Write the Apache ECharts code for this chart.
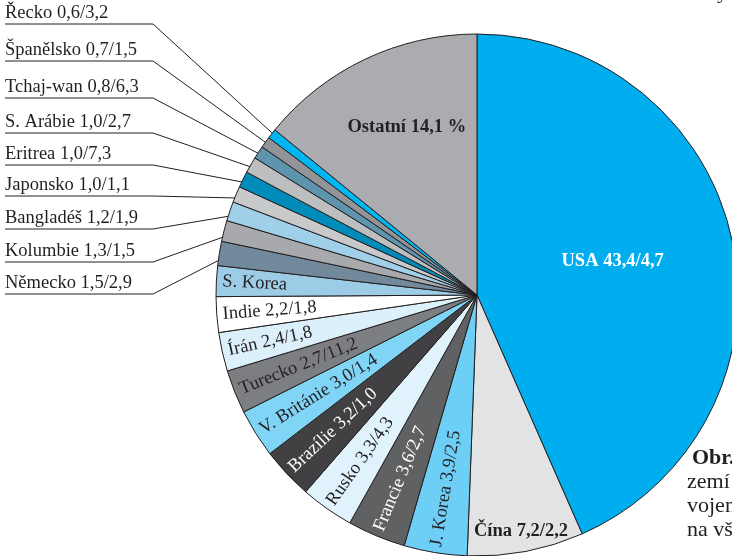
<!DOCTYPE html>
<html>
<head>
<meta charset="utf-8">
<script src="https://cdn.jsdelivr.net/npm/echarts/dist/echarts.min.js"></script>
<style>
html, body { margin: 0; padding: 0; background: #fff; }
#chart { width: 732px; height: 556px; }
</style>
</head>
<body>
<div id="chart"></div>
<script>
// podíl na světových výdajích (%) / druhé číslo v popisku
const countries = ['USA', 'Čína', 'J. Korea', 'Francie', 'Rusko', 'Brazílie', 'V. Británie', 'Turecko', 'Írán', 'Indie',
  'S. Korea', 'Německo', 'Kolumbie', 'Bangladéš', 'Japonsko', 'Eritrea', 'S. Arábie', 'Tchaj-wan', 'Španělsko', 'Řecko', 'Ostatní']
const shares = [43.4, 7.2, 3.9, 3.6, 3.3, 3.2, 3.0, 2.7, 2.4, 2.2, 1.9, 1.5, 1.3, 1.2, 1.0, 1.0, 1.0, 0.8, 0.7, 0.6, 14.1]
const secondVals = [4.7, 2.2, 2.5, 2.7, 4.3, 1.0, 1.4, 11.2, 1.8, 1.8, null, 2.9, 1.5, 1.9, 1.1, 7.3, 2.7, 6.3, 1.5, 3.2, null]

const sliceColors = ['#00aeef', '#e2e3e4', '#6dcff6', '#5f6163', '#e0f2fc', '#414042', '#80d4f6', '#7c7e81', '#dcf0fb', '#ffffff',
  '#9dcde6', '#71899a', '#a7a9ac', '#a0d0e9', '#c8c9cb', '#008cba', '#bcbec0', '#5e94ad', '#929497', '#00b6f0', '#abacaf']

const CX = 477
const CY = 295
const R = 261
const FONT = '"Liberation Serif", "Times New Roman", serif'
const FS = 18.5
const INK = '#231f20'
const boldOffset = { 0: [5, -6], 1: [19, 105], 20: [-13, -47] }
const whiteText = [3, 5]
// underline rows for the outside labels, top (Řecko) to bottom (Německo)
const leaderY = [24, 61, 98, 133, 165, 196, 229, 262, 294]
const UNDER_X0 = 5
const UNDER_X1 = 153

function fmt (v) {
  return v.toFixed(1).replace('.', ',')
}

function labelText (i) {
  if (i === 20) return countries[i] + ' ' + fmt(shares[i]) + ' %'
  if (secondVals[i] == null) return countries[i]
  return countries[i] + ' ' + fmt(shares[i]) + '/' + fmt(secondVals[i])
}

function isOutside (i) {
  return i >= 11 && i <= 19
}

const data = countries.map(function (name, i) {
  const item = { name: name, value: shares[i], itemStyle: { color: sliceColors[i] } }
  if (boldOffset[i]) {
    item.label = { position: 'inside', rotate: 0, fontWeight: 'bold', color: i === 0 ? '#fff' : INK, formatter: labelText(i) }
    item.labelLine = { show: false }
  } else if (isOutside(i)) {
    item.label = { position: 'outside', color: INK, formatter: labelText(i) }
  } else {
    item.label = { position: 'inside', rotate: 'radial', formatter: '{' + (whiteText.indexOf(i) >= 0 ? 'wt' : 'dk') + '|' + labelText(i) + '}' }
    item.labelLine = { show: false }
  }
  return item
})

const chart = echarts.init(document.getElementById('chart'))
const option = {
  animation: false,
  backgroundColor: '#fff',
  textStyle: { fontFamily: FONT },
  series: [{
    type: 'pie',
    center: [CX, CY],
    radius: [0, R],
    startAngle: 90,
    clockwise: true,
    avoidLabelOverlap: false,
    emphasis: { disabled: true },
    itemStyle: { borderColor: INK, borderWidth: 1 },
    label: {
      fontFamily: FONT,
      fontSize: FS,
      color: INK,
      rich: {
        dk: { width: 243, align: 'left', color: INK, fontSize: FS, fontFamily: FONT },
        wt: { width: 243, align: 'left', color: '#fff', fontSize: FS, fontFamily: FONT }
      }
    },
    labelLine: {
      show: true,
      length: 10,
      length2: 10,
      lineStyle: { color: INK, width: 1 }
    },
    labelLayout: function (p) {
      const i = p.dataIndex
      if (isOutside(i) && p.labelLinePoints) {
        const yU = leaderY[19 - i]
        const p0 = p.labelLinePoints[0]
        const vx = p0[0] - CX
        const vy = p0[1] - CY
        const k = (R - 10) / Math.sqrt(vx * vx + vy * vy)
        return {
          x: UNDER_X0,
          y: yU - 1,
          align: 'left',
          verticalAlign: 'bottom',
          labelLinePoints: [[CX + vx * k, CY + vy * k], [UNDER_X1, yU], [UNDER_X0, yU]]
        }
      }
      if (boldOffset[i]) {
        const r = p.labelRect
        return {
          x: r.x + r.width / 2 + boldOffset[i][0],
          y: r.y + r.height / 2 + boldOffset[i][1],
          align: 'center',
          verticalAlign: 'middle'
        }
      }
      return {}
    },
    data: data
  }],
  graphic: [
    { type: 'text', x: 717, y: -8, style: { text: 'y', font: '22px ' + FONT, fill: INK, verticalAlign: 'middle' } },
    { type: 'text', x: 692, y: 458, style: { text: 'Obr.', font: 'bold 22px ' + FONT, fill: INK, verticalAlign: 'middle' } },
    { type: 'text', x: 687, y: 482, style: { text: 'zemí', font: '22px ' + FONT, fill: INK, verticalAlign: 'middle' } },
    { type: 'text', x: 687, y: 506, style: { text: 'vojen', font: '22px ' + FONT, fill: INK, verticalAlign: 'middle' } },
    { type: 'text', x: 687, y: 530, style: { text: 'na vš', font: '22px ' + FONT, fill: INK, verticalAlign: 'middle' } }
  ]
}
chart.setOption(option)
</script>
</body>
</html>
